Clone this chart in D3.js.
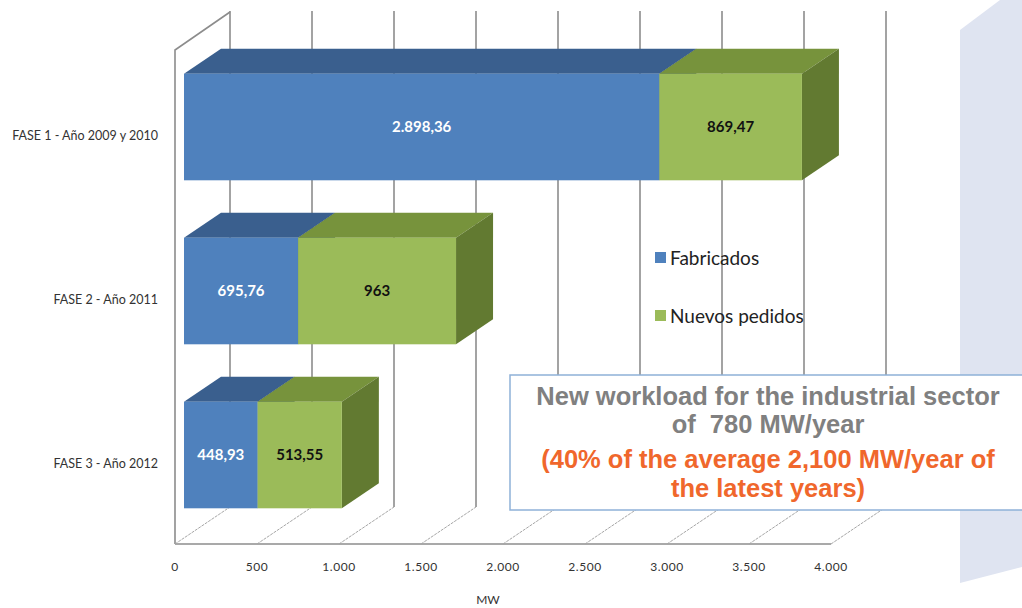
<!DOCTYPE html>
<html>
<head>
<meta charset="utf-8">
<script src="https://cdn.jsdelivr.net/npm/d3@7"></script>
<style>
  body { margin: 0; background: #fff; }
  svg text { font-family: Lato, "Open Sans", sans-serif; }
</style>
</head>
<body>
<svg id="chart" width="1022" height="608"></svg>
<script>
var categories = ["FASE 1 - Año 2009 y 2010", "FASE 2 - Año 2011", "FASE 3 - Año 2012"];
var fabricados = [2898.36, 695.76, 448.93];
var nuevosPedidos = [869.47, 963, 513.55];
var tickValues = [0, 500, 1000, 1500, 2000, 2500, 3000, 3500, 4000];
var seriesNames = ["Fabricados", "Nuevos pedidos"];
var noteLines = ["New workload for the industrial sector", "of  780 MW/year",
                 "(40% of the average 2,100 MW/year of", "the latest years)"];

var svg = d3.select("#chart"),
    es = d3.formatLocale({decimal: ",", thousands: ".", grouping: [3], currency: ["", "€"]}),
    origin = {x: 175, y: 544},          // front-left corner of the floor
    depth = {dx: 55, dy: -37},          // floor / wall depth
    barOff = {dx: 9, dy: -6},           // bar front plane behind floor edge
    barDepth = {dx: 37, dy: -25};

var x = d3.scaleLinear().domain([0, 4000]).range([0, 656]);
var y = d3.scaleBand().domain(categories).range([45, 537]).paddingInner(0.35).paddingOuter(0.175);

function fmtValue(v) {
  return Number.isInteger(v) ? es.format(",")(v) : es.format(",.2f")(v);
}

// light backdrop shape on the right
svg.append("path")
  .attr("d", "M960,30 L1000,0 L1022,0 L1022,567 L960,583 Z")
  .attr("fill", "#dfe4f1");

// back wall gridlines
var backX = function(v) { return origin.x + depth.dx + x(v); };
svg.append("g").selectAll("line")
  .data(tickValues)
  .enter().append("line")
  .attr("x1", backX).attr("x2", backX)
  .attr("y1", 11).attr("y2", origin.y + depth.dy)
  .attr("stroke", "#8c8c8c").attr("stroke-width", 1.6);

// left wall
svg.append("path")
  .attr("d", "M" + origin.x + "," + origin.y + " L" + origin.x + ",50 L" + (origin.x + depth.dx) + ",12")
  .attr("fill", "none").attr("stroke", "#8c8c8c").attr("stroke-width", 1.6);

// floor
svg.append("line")
  .attr("x1", origin.x).attr("x2", origin.x + x(4000))
  .attr("y1", origin.y).attr("y2", origin.y)
  .attr("stroke", "#8c8c8c").attr("stroke-width", 1.6);
svg.append("g").selectAll("line")
  .data(tickValues)
  .enter().append("line")
  .attr("x1", function(d) { return origin.x + x(d); })
  .attr("y1", origin.y)
  .attr("x2", function(d) { return origin.x + x(d) + depth.dx; })
  .attr("y2", origin.y + depth.dy)
  .attr("stroke", "#a6a6a6").attr("stroke-width", 1)
  .attr("stroke-dasharray", "3,1");

// 3D bars
var segments = [];
categories.forEach(function(c, i) {
  segments.push({cat: c, start: 0, value: fabricados[i], front: "#4f81bd", top: "#3a5f8e", side: "#2f4d74", text: "#fff"});
  segments.push({cat: c, start: fabricados[i], value: nuevosPedidos[i], front: "#9bbb59", top: "#77933c", side: "#627a31", text: "#111"});
});

var bars = svg.append("g").selectAll("g")
  .data(segments)
  .enter().append("g");

bars.each(function(d) {
  var g = d3.select(this),
      x0 = origin.x + barOff.dx + x(d.start),
      x1 = origin.x + barOff.dx + x(d.start + d.value),
      y0 = y(d.cat),
      y1 = y0 + y.bandwidth(),
      dx = barDepth.dx, dy = barDepth.dy;
  g.append("path")
    .attr("d", "M" + x0 + "," + y0 + " L" + (x0 + dx) + "," + (y0 + dy) + " L" + (x1 + dx) + "," + (y0 + dy) + " L" + x1 + "," + y0 + " Z")
    .attr("fill", d.top);
  g.append("path")
    .attr("d", "M" + x1 + "," + y0 + " L" + (x1 + dx) + "," + (y0 + dy) + " L" + (x1 + dx) + "," + (y1 + dy) + " L" + x1 + "," + y1 + " Z")
    .attr("fill", d.side);
  g.append("rect")
    .attr("x", x0).attr("y", y0)
    .attr("width", x1 - x0).attr("height", y1 - y0)
    .attr("fill", d.front);
  g.append("text")
    .attr("x", (x0 + x1) / 2).attr("y", (y0 + y1) / 2)
    .attr("dy", "0.35em")
    .attr("text-anchor", "middle")
    .attr("font-size", 15).attr("font-weight", "bold")
    .attr("fill", d.text)
    .text(fmtValue(d.value));
});

// category labels
svg.append("g").selectAll("text")
  .data(categories)
  .enter().append("text")
  .attr("x", 158)
  .attr("y", function(d) { return y(d) + y.bandwidth() / 2 + 9; })
  .attr("dy", "0.35em")
  .attr("text-anchor", "end")
  .attr("font-size", 12.5)
  .attr("fill", "#333")
  .text(function(d) { return d; });

// value axis labels
svg.append("g").selectAll("text")
  .data(tickValues)
  .enter().append("text")
  .attr("x", function(d) { return origin.x + x(d); })
  .attr("y", 571)
  .attr("text-anchor", "middle")
  .attr("font-size", 12)
  .attr("letter-spacing", 0.6)
  .attr("fill", "#333")
  .text(function(d) { return es.format(",")(d); });

svg.append("text")
  .attr("x", 488).attr("y", 604)
  .attr("text-anchor", "middle")
  .attr("font-size", 12)
  .attr("fill", "#333")
  .text("MW");

// legend
var legend = svg.append("g").selectAll("g")
  .data(seriesNames)
  .enter().append("g")
  .attr("transform", function(d, i) { return "translate(655," + (252 + i * 58) + ")"; });
legend.append("rect")
  .attr("width", 11).attr("height", 11)
  .attr("fill", function(d, i) { return i === 0 ? "#4f81bd" : "#9bbb59"; });
legend.append("text")
  .attr("x", 15).attr("y", 6)
  .attr("dy", "0.35em")
  .attr("font-size", 19)
  .attr("fill", "#222")
  .text(function(d) { return d; });

// note box
svg.append("rect")
  .attr("x", 510).attr("y", 375)
  .attr("width", 530).attr("height", 135)
  .attr("fill", "#fff")
  .attr("stroke", "#8fb1d8").attr("stroke-width", 1.5);

svg.append("g").selectAll("text")
  .data(noteLines)
  .enter().append("text")
  .attr("x", 768)
  .attr("y", function(d, i) { return [405, 433, 468, 497][i]; })
  .attr("text-anchor", "middle")
  .attr("xml:space", "preserve")
  .style("white-space", "pre")
  .style("font-family", "'Liberation Sans', Arial, sans-serif")
  .attr("font-size", 25.5).attr("font-weight", "bold")
  .attr("fill", function(d, i) { return i < 2 ? "#808080" : "#f0672c"; })
  .text(function(d) { return d; });
</script>
</body>
</html>
